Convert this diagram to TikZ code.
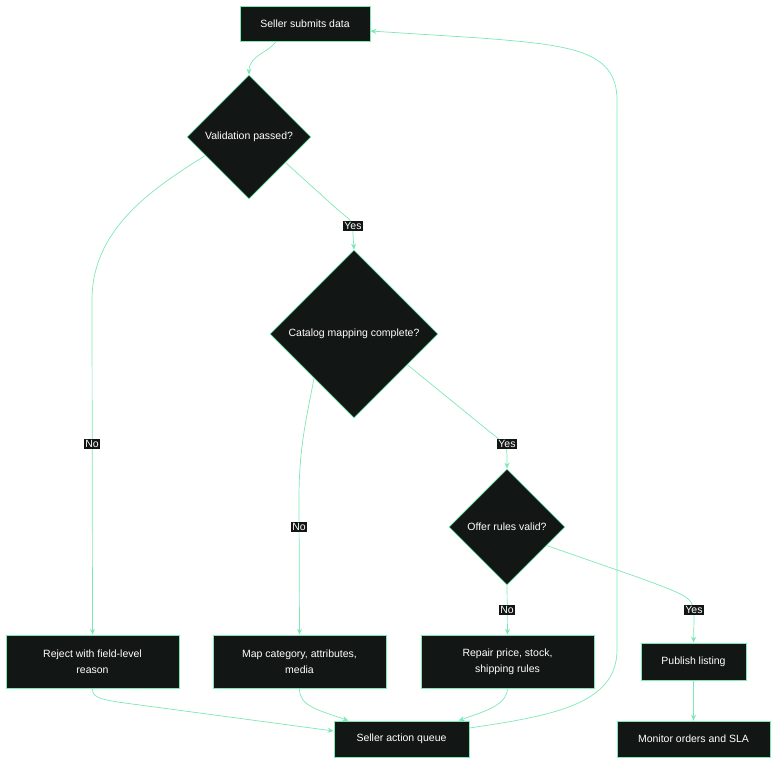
\documentclass[tikz,border=0pt]{standalone}
\usepackage{fontspec}
\setmainfont{Liberation Sans}
\usetikzlibrary{shapes.geometric,arrows.meta,calc}
\definecolor{mint}{RGB}{126,232,180}
\definecolor{ink}{RGB}{18,22,20}
\begin{document}
\begin{tikzpicture}[x=1pt,y=-1pt,
  box/.style={draw=mint,fill=ink,line width=0.8pt,text=white,font=\fontsize{10.5}{16}\selectfont,align=center,inner sep=0pt},
  dia/.style={diamond,draw=mint,fill=ink,line width=0.8pt,text=white,font=\fontsize{10.5}{13}\selectfont,align=center,inner sep=0pt,aspect=1},
  lbl/.style={fill=ink,text=white,font=\fontsize{10.5}{12}\selectfont,inner sep=1.2pt},
  edge/.style={draw=mint,line width=0.7pt,-{Stealth[length=6pt,width=5pt]}}]
\useasboundingbox (0,0) rectangle (784,771);
% nodes
\node[box,minimum width=130pt,minimum height=35pt] (s1) at (305,23.5) {Seller submits data};
\node[dia,minimum width=124pt,minimum height=124pt] (v) at (249,137) {Validation passed?};
\node[dia,minimum width=168pt,minimum height=168pt] (c) at (354,334) {Catalog mapping complete?};
\node[dia,minimum width=116pt,minimum height=116pt] (o) at (507,527) {Offer rules valid?};
\node[box,minimum width=173pt,minimum height=53pt] (r) at (92.5,661.5) {Reject with field-level\\reason};
\node[box,minimum width=173pt,minimum height=53pt] (m) at (299.5,661.5) {Map category, attributes,\\media};
\node[box,minimum width=173pt,minimum height=53pt] (rp) at (507.5,661.5) {Repair price, stock,\\shipping rules};
\node[box,minimum width=105pt,minimum height=37pt] (p) at (693.5,661.5) {Publish listing};
\node[box,minimum width=135pt,minimum height=36pt] (q) at (401.5,739) {Seller action queue};
\node[box,minimum width=153pt,minimum height=36pt] (mo) at (693.5,739) {Monitor orders and SLA};
% edges
\draw[edge] ([xshift=-29pt]s1.south) .. controls (270,52) and (249,55) .. (v.north);
\draw[edge] (v.203) .. controls (150,190) and (92,230) .. (92,300) -- (r.north);
\draw[edge] (v.325) -- (338,210) .. controls (353,222) .. (353,235) -- (c.north);
\draw[edge] (c.228) .. controls (305,425) and (299,450) .. (299,500) -- (m.north);
\draw[edge] (c.330) -- (490,432) .. controls (507,445) .. (507,460) -- (o.north);
\draw[edge] (o.south) -- (rp.north);
\draw[edge] (o.335) -- (640,578) .. controls (694,598) .. (694,620) -- (p.north);
\draw[edge] (p.south) -- (mo.north);
\draw[edge] (r.south) .. controls (92,698) and (100,700) .. (140,705) -- ([yshift=8pt]q.west);
\draw[edge] (m.south) .. controls (299,706) and (318,710) .. ([xshift=-53pt]q.north);
\draw[edge] (rp.south) .. controls (507,706) and (482,712) .. ([xshift=57pt]q.north);
\draw[edge] ([yshift=11pt]q.east) .. controls (550,716) and (617,705) .. (617,650) -- (617,100) .. controls (617,50) and (570,45) .. (480,38) -- ([yshift=-7.5pt]s1.east);
% labels
\node[lbl] (l1) at (353,226) {Yes};
\node[lbl] (l2) at (92,444) {No};
\node[lbl] (l3) at (507,444) {Yes};
\node[lbl] (l4) at (299,527) {No};
\node[lbl] (l5) at (507,610) {No};
\node[lbl] (l6) at (694,610) {Yes};
\end{tikzpicture}
\end{document}
